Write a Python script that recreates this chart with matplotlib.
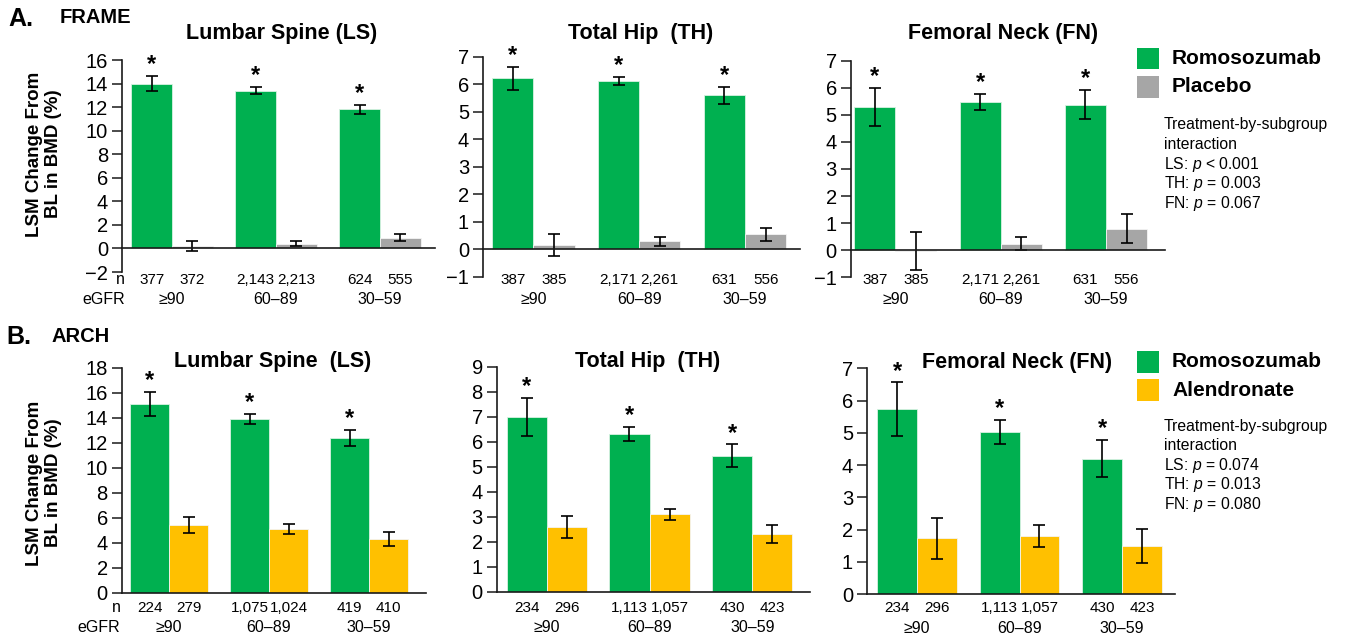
import numpy as np
import matplotlib
matplotlib.use("Agg")
import matplotlib.pyplot as plt
from matplotlib.transforms import blended_transform_factory
from matplotlib.patches import Rectangle

# ---------------- data ----------------
egfr_groups = ["\u226590", "60\u201389", "30\u201359"]

# FRAME (romosozumab vs placebo)
frame_ls_romo = [14.0, 13.4, 11.8]
frame_ls_romo_err = [0.65, 0.30, 0.40]
frame_ls_pbo = [0.20, 0.40, 0.90]
frame_ls_pbo_err = [0.40, 0.20, 0.30]
frame_ls_n_romo = ["377", "2,143", "624"]
frame_ls_n_pbo = ["372", "2,213", "555"]

frame_th_romo = [6.22, 6.13, 5.60]
frame_th_romo_err = [0.42, 0.15, 0.31]
frame_th_pbo = [0.15, 0.28, 0.54]
frame_th_pbo_err = [0.40, 0.15, 0.23]

frame_fn_romo = [5.30, 5.48, 5.38]
frame_fn_romo_err = [0.70, 0.30, 0.55]
frame_fn_pbo = [-0.03, 0.24, 0.80]
frame_fn_pbo_err = [0.69, 0.24, 0.55]

frame_hip_n_romo = ["387", "2,171", "631"]
frame_hip_n_pbo = ["385", "2,261", "556"]

# ARCH (romosozumab vs alendronate)
arch_ls_romo = [15.1, 13.9, 12.4]
arch_ls_romo_err = [0.95, 0.40, 0.64]
arch_ls_aln = [5.4, 5.1, 4.3]
arch_ls_aln_err = [0.63, 0.39, 0.53]
arch_ls_n_romo = ["224", "1,075", "419"]
arch_ls_n_aln = ["279", "1,024", "410"]

arch_th_romo = [7.00, 6.30, 5.44]
arch_th_romo_err = [0.76, 0.29, 0.45]
arch_th_aln = [2.60, 3.10, 2.30]
arch_th_aln_err = [0.44, 0.22, 0.35]

arch_fn_romo = [5.73, 5.02, 4.20]
arch_fn_romo_err = [0.83, 0.37, 0.58]
arch_fn_aln = [1.73, 1.80, 1.48]
arch_fn_aln_err = [0.64, 0.35, 0.53]

arch_hip_n_romo = ["234", "1,113", "430"]
arch_hip_n_aln = ["296", "1,057", "423"]

frame_interaction = ["Treatment-by-subgroup", "interaction",
                     "LS: $p$ < 0.001", "TH: $p$ = 0.003", "FN: $p$ = 0.067"]
arch_interaction = ["Treatment-by-subgroup", "interaction",
                    "LS: $p$ = 0.074", "TH: $p$ = 0.013", "FN: $p$ = 0.080"]

# ---------------- style ----------------
GREEN = "#00B050"
GRAY = "#A6A6A6"
YELLOW = "#FFC000"
SPINE = "#1a1a1a"

SANS = ["Liberation Sans", "DejaVu Sans"]
plt.rcParams["font.family"] = SANS
plt.rcParams["mathtext.fontset"] = "custom"
plt.rcParams["mathtext.rm"] = "Liberation Sans"
plt.rcParams["mathtext.it"] = "Liberation Sans:italic"

W, H = 1349, 641
fig = plt.figure(figsize=(W / 100, H / 100), dpi=100)

NUM_FS = 11


def fx(px):
    return px / W


def fy(py):
    return 1 - py / H


def panel(l, r, t, b, c0, c2, ylim, ystep, romo, romo_err, comp, comp_err,
          comp_color, n_romo, n_comp, title, tx, ty, n_y, g_y):
    ax = fig.add_axes([fx(l), fy(b), (r - l) / W, (b - t) / H])
    sp = (c2 - c0) / 2
    ax.set_xlim(-(c0 - l) / sp, 2 + (r - c2) / sp)
    ax.set_ylim(*ylim)
    x = np.arange(3)
    w = 0.39
    ek = dict(elinewidth=1.2, capthick=1.2, ecolor="black")
    ax.bar(x - w / 2, romo, w, color=GREEN, edgecolor="#d8f2e2", linewidth=0.6,
           yerr=romo_err, capsize=4.2, error_kw=ek, zorder=2)
    ax.bar(x + w / 2, comp, w, color=comp_color, edgecolor="#f4f4f4", linewidth=0.6,
           yerr=comp_err, capsize=4.2, error_kw=ek, zorder=2)
    for xi, v, e in zip(x, romo, romo_err):
        ax.annotate("*", (xi - w / 2, v + e), xytext=(0, 3.5),
                    textcoords="offset points", ha="center", va="baseline",
                    fontsize=17, fontweight="bold")
    for s in ("top", "right"):
        ax.spines[s].set_visible(False)
    ax.spines["bottom"].set_position(("data", 0))
    for s in ("left", "bottom"):
        ax.spines[s].set_color(SPINE)
        ax.spines[s].set_linewidth(1.2)
    ax.set_yticks(np.arange(ylim[0], ylim[1] + 0.001, ystep))
    ax.tick_params(axis="y", length=7, width=1.1, color=SPINE, labelsize=14.5, pad=3)
    ax.tick_params(axis="x", length=0, labelbottom=False)
    ax.patch.set_alpha(0)

    tr = blended_transform_factory(ax.transData, fig.transFigure)
    for xi, a, c in zip(x, n_romo, n_comp):
        ax.text(xi - w / 2, fy(n_y), a, transform=tr, ha="center", va="center",
                fontsize=NUM_FS)
        ax.text(xi + w / 2, fy(n_y), c, transform=tr, ha="center", va="center",
                fontsize=NUM_FS)
    for xi, g in zip(x, egfr_groups):
        ax.text(xi, fy(g_y), g, transform=tr, ha="center", va="center",
                fontsize=NUM_FS + 0.5)
    fig.text(fx(tx), fy(ty), title, ha="center", va="center",
             fontsize=15.5, fontweight="bold")
    return ax


# ---- row A: FRAME ----
panel(122, 435, 60, 272, 172, 380, (-2, 16), 2, frame_ls_romo, frame_ls_romo_err,
      frame_ls_pbo, frame_ls_pbo_err, GRAY, frame_ls_n_romo, frame_ls_n_pbo,
      "Lumbar Spine (LS)", 282, 33, 279.5, 300)
panel(483, 800, 56.7, 276.7, 533.3, 745, (-1, 7), 1, frame_th_romo, frame_th_romo_err,
      frame_th_pbo, frame_th_pbo_err, GRAY, frame_hip_n_romo, frame_hip_n_pbo,
      "Total Hip  (TH)", 641, 33, 279.5, 300)
panel(850.7, 1165, 60.7, 277.3, 895.3, 1106, (-1, 7), 1, frame_fn_romo, frame_fn_romo_err,
      frame_fn_pbo, frame_fn_pbo_err, GRAY, frame_hip_n_romo, frame_hip_n_pbo,
      "Femoral Neck (FN)", 1003, 33, 280, 300)

# ---- row B: ARCH ----
panel(121.7, 426, 367.7, 592.7, 169, 369, (0, 18), 2, arch_ls_romo, arch_ls_romo_err,
      arch_ls_aln, arch_ls_aln_err, YELLOW, arch_ls_n_romo, arch_ls_n_aln,
      "Lumbar Spine  (LS)", 273, 361.7, 607.5, 627)
panel(496.7, 810, 366.7, 591.7, 546.7, 752.3, (0, 9), 1, arch_th_romo, arch_th_romo_err,
      arch_th_aln, arch_th_aln_err, YELLOW, arch_hip_n_romo, arch_hip_n_aln,
      "Total Hip  (TH)", 647.5, 361.7, 607.5, 627.5)
panel(867, 1175, 368.3, 594, 917, 1122, (0, 7), 1, arch_fn_romo, arch_fn_romo_err,
      arch_fn_aln, arch_fn_aln_err, YELLOW, arch_hip_n_romo, arch_hip_n_aln,
      "Femoral Neck (FN)", 1017.5, 362.5, 608.5, 628.5)

# ---- panel letters, study names, y labels, n / eGFR row labels ----
fig.text(fx(8), fy(18.5), "A.", fontsize=18, fontweight="bold", ha="left", va="center")
fig.text(fx(60), fy(17.5), "FRAME", fontsize=14.5, fontweight="bold", ha="left", va="center")
fig.text(fx(6.5), fy(336.7), "B.", fontsize=18, fontweight="bold", ha="left", va="center")
fig.text(fx(52), fy(336.5), "ARCH", fontsize=14.5, fontweight="bold", ha="left", va="center")

ylab = "LSM Change From\nBL in BMD (%)"
for yc in (154, 483):
    fig.text(fx(44), fy(yc), ylab, rotation=90, ha="center", va="center",
             fontsize=13.5, fontweight="bold", linespacing=1.12,
             multialignment="center")

for ny, gy, nx, ex in [(279.5, 300, 120, 125), (607.5, 627, 116, 120)]:
    fig.text(fx(nx), fy(ny), "n", ha="center", va="center", fontsize=NUM_FS + 0.5)
    fig.text(fx(ex), fy(gy), "eGFR", ha="right", va="center", fontsize=NUM_FS + 0.5)


# ---- legends and interaction notes ----
def legend_block(y1, y2, comp_label, comp_color, notes, note_y0):
    for yc, col, lab in [(y1, GREEN, "Romosozumab"), (y2, comp_color, comp_label)]:
        fig.patches.append(Rectangle((fx(1137), fy(yc + 10.8)), 21.5 / W, 21.6 / H,
                                     transform=fig.transFigure, facecolor=col,
                                     edgecolor="none"))
        fig.text(fx(1172), fy(yc), lab, ha="left", va="center",
                 fontsize=15, fontweight="bold")
    for i, line in enumerate(notes):
        fig.text(fx(1164), fy(note_y0 + 19.6 * i), line, ha="left", va="center",
                 fontsize=11.3)


legend_block(58.3, 86.7, "Placebo", GRAY, frame_interaction, 125)
legend_block(361.7, 390, "Alendronate", YELLOW, arch_interaction, 426)

fig.savefig("out.png", dpi=100)
